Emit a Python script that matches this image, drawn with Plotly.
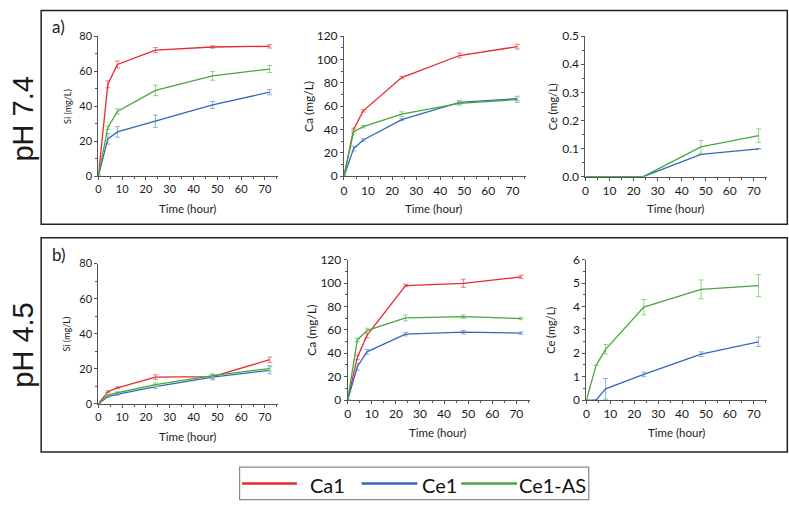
import plotly.graph_objects as go

W, H = 789, 509

time = [0, 4, 8, 24, 48, 72]
series_names = ["Ca1", "Ce1", "Ce1-AS"]

# pH 7.4
si74_ca1 = [0, 52.5, 63.8, 72.0, 73.8, 74.2]
si74_ca1_err = [0, 2.0, 2.0, 1.5, 0.7, 1.0]
si74_ce1 = [0, 21.3, 25.3, 31.4, 40.7, 48.0]
si74_ce1_err = [0, 3.0, 3.0, 3.5, 2.0, 1.5]
si74_as = [0, 27.7, 37.0, 49.0, 57.3, 61.2]
si74_as_err = [0, 1.0, 1.5, 3.0, 2.5, 2.0]

ca74_ca1 = [0, 40.2, 56.0, 84.5, 103.4, 111.0]
ca74_ca1_err = [0, 1.0, 1.0, 1.0, 2.0, 2.0]
ca74_ce1 = [0, 23.6, 31.0, 48.5, 63.2, 66.5]
ca74_ce1_err = [0, 2.0, 1.0, 1.0, 1.5, 2.0]
ca74_as = [0, 38.2, 42.4, 53.2, 62.4, 65.7]
ca74_as_err = [0, 1.0, 1.0, 2.0, 1.5, 2.5]

ce74_ce1 = [0, 0, 0, 0, 0.079, 0.099]
ce74_ce1_err = [0, 0, 0, 0, 0, 0]
ce74_as = [0, 0, 0, 0, 0.106, 0.146]
ce74_as_err = [0, 0, 0, 0, 0.023, 0.024]

# pH 4.5
si45_ca1 = [0, 7.0, 9.2, 15.3, 15.6, 25.2]
si45_ca1_err = [0, 0.5, 0.5, 1.3, 1.0, 1.5]
si45_ce1 = [0, 4.2, 5.5, 9.9, 15.3, 19.2]
si45_ce1_err = [0, 0.5, 0.5, 1.0, 1.5, 2.0]
si45_as = [0, 5.0, 6.4, 11.0, 16.2, 20.2]
si45_as_err = [0, 0.5, 0.5, 1.0, 1.0, 1.5]

ca45_ca1 = [0, 36.5, 55.3, 97.9, 99.8, 105.3]
ca45_ca1_err = [0, 2.0, 2.0, 1.0, 3.5, 1.5]
ca45_ce1 = [0, 28.5, 41.2, 56.4, 58.0, 57.2]
ca45_ce1_err = [0, 3.0, 2.0, 1.5, 1.5, 1.0]
ca45_as = [0, 51.4, 59.4, 70.2, 71.3, 69.7]
ca45_as_err = [0, 1.5, 2.0, 2.5, 1.5, 1.0]

ce45_ce1 = [0, 0, 0.48, 1.10, 1.96, 2.49]
ce45_ce1_err = [0, 0, 0.44, 0.10, 0.10, 0.20]
ce45_as = [0, 1.48, 2.17, 3.97, 4.73, 4.89]
ce45_as_err = [0, 0, 0.20, 0.33, 0.40, 0.47]

line_colors = {"Ca1": "#e8282c", "Ce1": "#3469b8", "Ce1-AS": "#45a83d"}
err_colors = {"Ca1": "#f07f80", "Ce1": "#8bb0e0", "Ce1-AS": "#8fd487"}

FONT = "Lato"
TXT = "#1a1a1a"


def px(x):
    return x / W


def py(y):
    return 1 - y / H


fig = go.Figure()

panels = [
    ("1", (95.7, 276.1), (29, 173.3), [0, 80], 20, 10, None, "Si (mg/L)", 64, 9, 11,
     [("Ca1", si74_ca1, si74_ca1_err), ("Ce1", si74_ce1, si74_ce1_err), ("Ce1-AS", si74_as, si74_as_err)]),
    ("2", (342.3, 524.6), (29, 173.3), [0, 120], 20, 10, None, "Ca (mg/L)", 306, 12, 12,
     [("Ca1", ca74_ca1, ca74_ca1_err), ("Ce1", ca74_ce1, ca74_ce1_err), ("Ce1-AS", ca74_as, ca74_as_err)]),
    ("3", (584.7, 767.0), (29, 173.8), [0, 0.5], 0.1, 0.05, ".1f", "Ce (mg/L)", 552, 11, 12,
     [("Ce1", ce74_ce1, ce74_ce1_err), ("Ce1-AS", ce74_as, ce74_as_err)]),
    ("4", (95.7, 276.1), (263.3, 408.0), [0, 80], 20, 10, None, "Si (mg/L)", 64, 9, 11,
     [("Ca1", si45_ca1, si45_ca1_err), ("Ce1", si45_ce1, si45_ce1_err), ("Ce1-AS", si45_as, si45_as_err)]),
    ("5", (346.0, 528.6), (259.3, 404.0), [0, 120], 20, 10, None, "Ca (mg/L)", 310, 12, 12,
     [("Ca1", ca45_ca1, ca45_ca1_err), ("Ce1", ca45_ce1, ca45_ce1_err), ("Ce1-AS", ca45_as, ca45_as_err)]),
    ("6", (585.7, 766.7), (259.3, 404.0), [0, 6], 1, 0.5, None, "Ce (mg/L)", 550, 11, 12,
     [("Ce1", ce45_ce1, ce45_ce1_err), ("Ce1-AS", ce45_as, ce45_as_err)]),
]

annotations = []
for (n, (x0, x1), (y0, y1), yr, dt, mdt, fmt, ylab, labx, labsize, tsize, data) in panels:
    xa = "xaxis" if n == "1" else "xaxis" + n
    ya = "yaxis" if n == "1" else "yaxis" + n
    xref = "x" if n == "1" else "x" + n
    yref = "y" if n == "1" else "y" + n
    axis_common = dict(
        showline=True, linecolor="#555555", linewidth=1, ticks="outside", ticklen=3,
        tickcolor="#555555", tickwidth=1, showgrid=False, zeroline=False,
        tickfont=dict(family=FONT, size=tsize, color=TXT),
    )
    fig.update_layout({
        xa: dict(domain=[px(x0), px(x1)], range=[0, 75.5], dtick=10, tick0=0,
                 minor=dict(dtick=5, ticklen=2, ticks="outside", tickcolor="#555555"),
                 anchor=yref, **axis_common),
        ya: dict(domain=[py(y1), py(y0)], range=yr, dtick=dt, tick0=0,
                 minor=dict(dtick=mdt, ticklen=2, ticks="outside", tickcolor="#555555"),
                 tickformat=fmt, anchor=xref, **axis_common),
    })
    for name, vals, errs in data:
        fig.add_trace(go.Scatter(
            x=time, y=vals, mode="lines", xaxis=xref, yaxis=yref,
            line=dict(color=line_colors[name], width=1.3), showlegend=False, name=name,
            error_y=dict(type="data", array=errs, visible=True, color=err_colors[name],
                         thickness=1, width=2.5),
        ))
    annotations.append(dict(
        text=ylab, x=px(labx), y=py((y0 + y1) / 2), xref="paper", yref="paper",
        textangle=-90, showarrow=False, font=dict(family=FONT, size=labsize, color=TXT),
        xanchor="center", yanchor="middle",
    ))
    annotations.append(dict(
        text="Time (hour)", x=px((x0 + x0 + 172) / 2 + 4), y=py(y1 + 33), xref="paper", yref="paper",
        showarrow=False, font=dict(family=FONT, size=11.5, color=TXT),
        xanchor="center", yanchor="middle",
    ))

annotations += [
    dict(text="a)", x=px(47), y=py(19), xref="paper", yref="paper", showarrow=False,
         xanchor="left", yanchor="middle", font=dict(family=FONT, size=17, color=TXT)),
    dict(text="b)", x=px(47), y=py(254), xref="paper", yref="paper", showarrow=False,
         xanchor="left", yanchor="middle", font=dict(family=FONT, size=17, color=TXT)),
    dict(text="pH 7.4", x=px(20), y=py(114), xref="paper", yref="paper", showarrow=False,
         textangle=-90, xanchor="center", yanchor="middle",
         font=dict(family="Liberation Sans", size=29, color=TXT)),
    dict(text="pH 4.5", x=px(20), y=py(347), xref="paper", yref="paper", showarrow=False,
         textangle=-90, xanchor="center", yanchor="middle",
         font=dict(family="Liberation Sans", size=29, color=TXT)),
]

shapes = [
    dict(type="rect", xref="paper", yref="paper", x0=px(38.3), x1=px(787.3), y0=py(222.7), y1=py(2.5),
         line=dict(color="#222222", width=1.5)),
    dict(type="rect", xref="paper", yref="paper", x0=px(38.3), x1=px(787.3), y0=py(457.5), y1=py(236.8),
         line=dict(color="#222222", width=1.5)),
    dict(type="rect", xref="paper", yref="paper", x0=px(237.5), x1=px(588), y0=py(506.5), y1=py(473),
         line=dict(color="#8a8a8a", width=1.2)),
]

legend_items = [("Ca1", 240, 295, 326), ("Ce1", 360, 416, 438), ("Ce1-AS", 460, 516, 552)]
for name, lx0, lx1, tx in legend_items:
    shapes.append(dict(type="line", xref="paper", yref="paper", x0=px(lx0), x1=px(lx1),
                       y0=py(490), y1=py(490), line=dict(color=line_colors[name], width=2.5)))
    annotations.append(dict(text=name, x=px(tx), y=py(491), xref="paper", yref="paper",
                            showarrow=False, xanchor="center", yanchor="middle",
                            font=dict(family=FONT, size=20, color="#111111")))

fig.update_layout(
    width=W, height=H, margin=dict(l=0, r=0, t=0, b=0),
    paper_bgcolor="white", plot_bgcolor="white",
    annotations=annotations, shapes=shapes, showlegend=False,
)

fig.write_html(
    "out.html",
    config={"displayModeBar": False},
    post_script="document.body.style.margin='0';document.body.style.overflow='hidden';",
)
